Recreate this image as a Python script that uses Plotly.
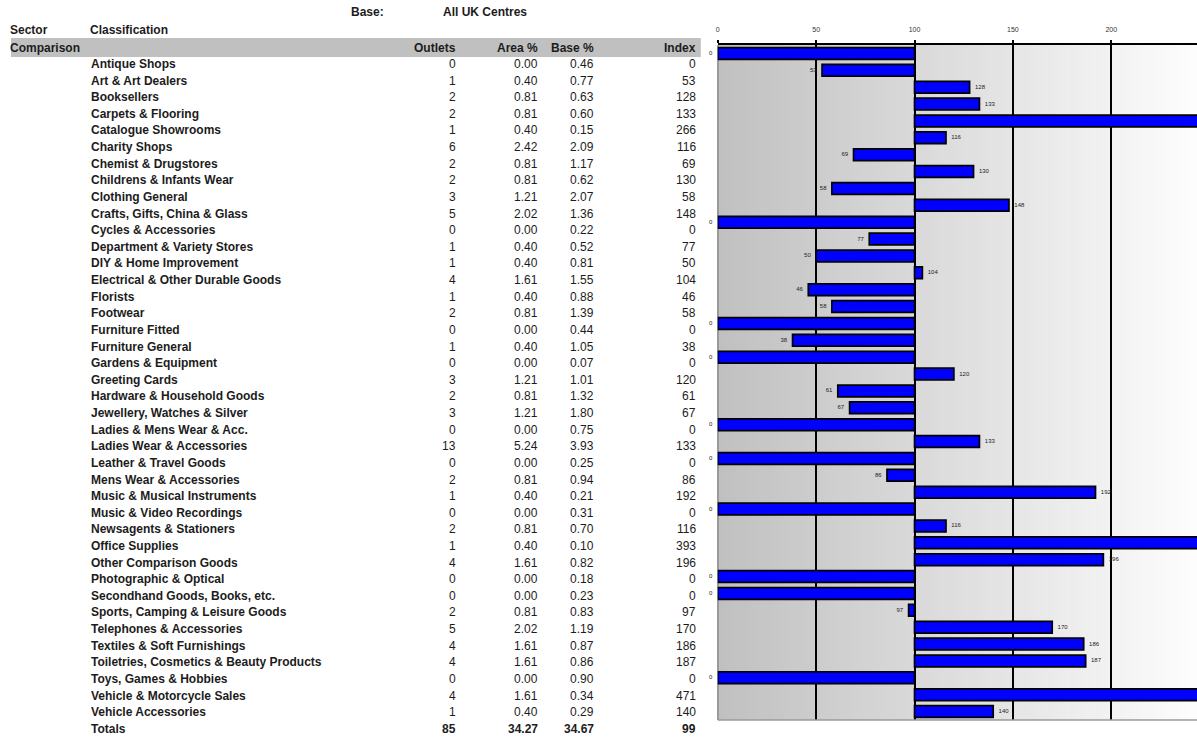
import plotly.graph_objects as go

# ---------------- data ----------------
categories = [
    "Antique Shops", "Art & Art Dealers", "Booksellers", "Carpets & Flooring",
    "Catalogue Showrooms", "Charity Shops", "Chemist & Drugstores",
    "Childrens & Infants Wear", "Clothing General", "Crafts, Gifts, China & Glass",
    "Cycles & Accessories", "Department & Variety Stores", "DIY & Home Improvement",
    "Electrical & Other Durable Goods", "Florists", "Footwear", "Furniture Fitted",
    "Furniture General", "Gardens & Equipment", "Greeting Cards",
    "Hardware & Household Goods", "Jewellery, Watches & Silver",
    "Ladies & Mens Wear & Acc.", "Ladies Wear & Accessories", "Leather & Travel Goods",
    "Mens Wear & Accessories", "Music & Musical Instruments", "Music & Video Recordings",
    "Newsagents & Stationers", "Office Supplies", "Other Comparison Goods",
    "Photographic & Optical", "Secondhand Goods, Books, etc.",
    "Sports, Camping & Leisure Goods", "Telephones & Accessories",
    "Textiles & Soft Furnishings", "Toiletries, Cosmetics & Beauty Products",
    "Toys, Games & Hobbies", "Vehicle & Motorcycle Sales", "Vehicle Accessories",
]
outlets = [0, 1, 2, 2, 1, 6, 2, 2, 3, 5, 0, 1, 1, 4, 1, 2, 0, 1, 0, 3,
           2, 3, 0, 13, 0, 2, 1, 0, 2, 1, 4, 0, 0, 2, 5, 4, 4, 0, 4, 1]
area_pct = ["0.00", "0.40", "0.81", "0.81", "0.40", "2.42", "0.81", "0.81", "1.21", "2.02",
            "0.00", "0.40", "0.40", "1.61", "0.40", "0.81", "0.00", "0.40", "0.00", "1.21",
            "0.81", "1.21", "0.00", "5.24", "0.00", "0.81", "0.40", "0.00", "0.81", "0.40",
            "1.61", "0.00", "0.00", "0.81", "2.02", "1.61", "1.61", "0.00", "1.61", "0.40"]
base_pct = ["0.46", "0.77", "0.63", "0.60", "0.15", "2.09", "1.17", "0.62", "2.07", "1.36",
            "0.22", "0.52", "0.81", "1.55", "0.88", "1.39", "0.44", "1.05", "0.07", "1.01",
            "1.32", "1.80", "0.75", "3.93", "0.25", "0.94", "0.21", "0.31", "0.70", "0.10",
            "0.82", "0.18", "0.23", "0.83", "1.19", "0.87", "0.86", "0.90", "0.34", "0.29"]
index_vals = [0, 53, 128, 133, 266, 116, 69, 130, 58, 148, 0, 77, 50, 104, 46, 58, 0, 38, 0, 120,
              61, 67, 0, 133, 0, 86, 192, 0, 116, 393, 196, 0, 0, 97, 170, 186, 187, 0, 471, 140]
totals_label = "Totals"
totals_values = ["85", "34.27", "34.67", "99"]
column_headers = ["Outlets", "Area %", "Base %", "Index"]
tick_vals = [0, 50, 100, 150, 200]
base_value = 100
sector_name = "Comparison"
base_name = "All UK Centres"

# ---------------- layout helpers ----------------
W, H = 1197, 738
FONT = "Liberation Sans, Arial, sans-serif"
TXT = "#1c1c1c"
FS = 12
X_MAX = 243.6


def px(x):
    return x / W


def py(y):
    return 1 - y / H


row_top, row_pitch = 64, 16.62
col_right = [457, 539, 595, 697]
label_x = 87

fig = go.Figure()

fig.add_trace(go.Bar(
    y=categories,
    x=[v - base_value for v in index_vals],
    base=base_value,
    orientation="h",
    width=0.7,
    marker=dict(color="#0000FF", line=dict(color="black", width=1.7)),
    hoverinfo="skip",
))

# value labels (those beyond the visible axis end fall off the page in the original)
fig.add_trace(go.Scatter(
    y=categories,
    x=index_vals,
    mode="markers+text",
    marker=dict(size=7, color="rgba(0,0,0,0)"),
    text=[str(v) if v < X_MAX - 15 else "" for v in index_vals],
    textposition=["middle left" if v < base_value else "middle right" for v in index_vals],
    textfont=dict(size=6, color="#222", family=FONT),
    cliponaxis=False,
    hoverinfo="skip",
))

shapes = []
# gradient background of the plot area
N = 80
c0, c1 = 0xC0, 0xFD
for i in range(N):
    c = int(round(c0 + (c1 - c0) * (i + 0.5) / N))
    shapes.append(dict(type="rect", xref="x domain", yref="y domain",
                       x0=i / N, x1=(i + 1) / N + 0.002, y0=0, y1=1,
                       fillcolor=f"rgb({c},{c},{c})", line=dict(width=0), layer="below"))
# bottom border
shapes.append(dict(type="line", xref="x domain", yref="y domain", x0=0, x1=1, y0=0, y1=0,
                   line=dict(color="#9a9a9a", width=1.5)))
# header band
shapes.append(dict(type="rect", xref="paper", yref="paper",
                   x0=px(9), x1=px(700), y0=py(57), y1=py(38),
                   fillcolor="#c0c0c0", line=dict(width=0), layer="below"))

ann = []


def add_text(x, y, text, anchor="left", bold=True, size=FS):
    ann.append(dict(xref="paper", yref="paper", x=px(x), y=py(y), text=f"<b>{text}</b>" if bold else text,
                    showarrow=False, xanchor=anchor, yanchor="middle",
                    font=dict(family=FONT, size=size, color=TXT)))


add_text(348, 12, "Base:")
add_text(440, 12, base_name)
add_text(6, 30, "Sector")
add_text(86, 30, "Classification")
add_text(6, 47.5, sector_name)
for h, xr in zip(column_headers, col_right):
    add_text(xr, 47.5, h, anchor="right")

for i, cat in enumerate(categories):
    y = row_top + row_pitch * i
    add_text(label_x, y, cat)
    vals = [str(outlets[i]), area_pct[i], base_pct[i], str(index_vals[i])]
    for v, xr in zip(vals, col_right):
        add_text(xr, y, v, anchor="right", bold=False)

y = row_top + row_pitch * len(categories)
add_text(label_x, y, totals_label)
for v, xr in zip(totals_values, col_right):
    add_text(xr, y, v, anchor="right")

fig.update_layout(
    width=W, height=H, autosize=False,
    margin=dict(l=0, r=0, t=0, b=0),
    paper_bgcolor="white", plot_bgcolor="white",
    showlegend=False, bargap=0.3,
    shapes=shapes, annotations=ann,
    font=dict(family=FONT),
    xaxis=dict(domain=[px(717), 1], range=[0, X_MAX], side="top",
               tickvals=tick_vals, ticks="outside", ticklen=3, tickcolor="black", tickwidth=1.5,
               tickfont=dict(size=7, color="#333", family=FONT), ticklabelstandoff=5,
               showgrid=True, gridcolor="black", gridwidth=1.5,
               zeroline=True, zerolinecolor="#9a9a9a", zerolinewidth=1.5,
               showline=True, linecolor="black", linewidth=2, fixedrange=True),
    yaxis=dict(domain=[py(720), py(45)], type="category", categoryorder="array",
               categoryarray=categories, range=[len(categories) - 0.5, -0.5],
               showticklabels=False, showgrid=False, zeroline=False, fixedrange=True),
)

fig.write_html("out.html", config={"displayModeBar": False},
               post_script="document.body.style.margin='0';document.body.style.overflow='hidden';")
